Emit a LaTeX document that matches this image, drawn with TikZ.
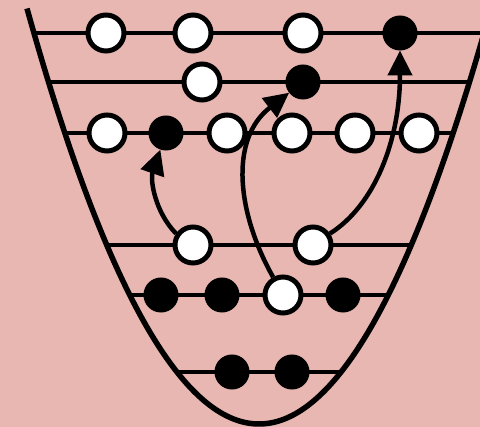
\documentclass[tikz,border=0pt]{standalone}
\usetikzlibrary{arrows.meta}
\definecolor{bgpink}{RGB}{232,183,178}
\begin{document}
\begin{tikzpicture}[x=1pt,y=-1pt,
  wire/.style={line width=4.5pt},
  well/.style={line width=5.5pt},
  empty/.style={circle,draw=black,fill=white,line width=5pt,minimum size=36pt,inner sep=0pt},
  full/.style={circle,draw=black,fill=black,line width=2pt,minimum size=33pt,inner sep=0pt},
  hop/.style={line width=4.5pt,-{Triangle[length=25pt,width=24pt]}}]
\fill[bgpink] (0,0) rectangle (480,427);
\useasboundingbox (0,0) rectangle (480,427);
\clip (0,0) rectangle (480,427);

% energy levels
\draw[wire] (34,33) -- (484,33);
\draw[wire] (48.5,82) -- (469.5,82);
\draw[wire] (64,133) -- (454,133);
\draw[wire] (107,245) -- (411,245);
\draw[wire] (130,295) -- (388,295);
\draw[wire] (177,372) -- (341,372);

% potential well
\draw[well] plot[domain=27:491,samples=120,smooth] (\x,{424-(0.08786*(\x-259))^2});

% level 1
\node[empty] (e1a) at (106,33) {};
\node[empty] (e1b) at (193,33) {};
\node[empty] (e1c) at (303,33) {};
\node[full]  (f1d) at (400,33) {};
% level 2
\node[empty] (e2a) at (202,82) {};
\node[full]  (f2b) at (303,82) {};
% level 3
\node[empty] (e3a) at (107,133) {};
\node[full]  (f3b) at (166,133) {};
\node[empty] (e3c) at (227,133) {};
\node[empty] (e3d) at (292,133) {};
\node[empty] (e3e) at (355,133) {};
\node[empty] (e3f) at (419,133) {};
% level 4
\node[empty] (e4a) at (193,245) {};
\node[empty] (e4b) at (313,245) {};
% level 5
\node[full]  (f5a) at (161,295) {};
\node[full]  (f5b) at (222,295) {};
\node[empty] (e5c) at (283,295) {};
\node[full]  (f5d) at (343,295) {};
% level 6
\node[full]  (f6a) at (232,372) {};
\node[full]  (f6b) at (292,372) {};

% excitations
\draw[hop] (e4a.146) .. controls (155,212) and (150,180) .. (f3b);
\draw[hop] (e5c.119) .. controls (238,215) and (228,140) .. (f2b);
\draw[hop] (e4b.34) .. controls (375,205) and (400,140) .. (f1d);
\end{tikzpicture}
\end{document}
